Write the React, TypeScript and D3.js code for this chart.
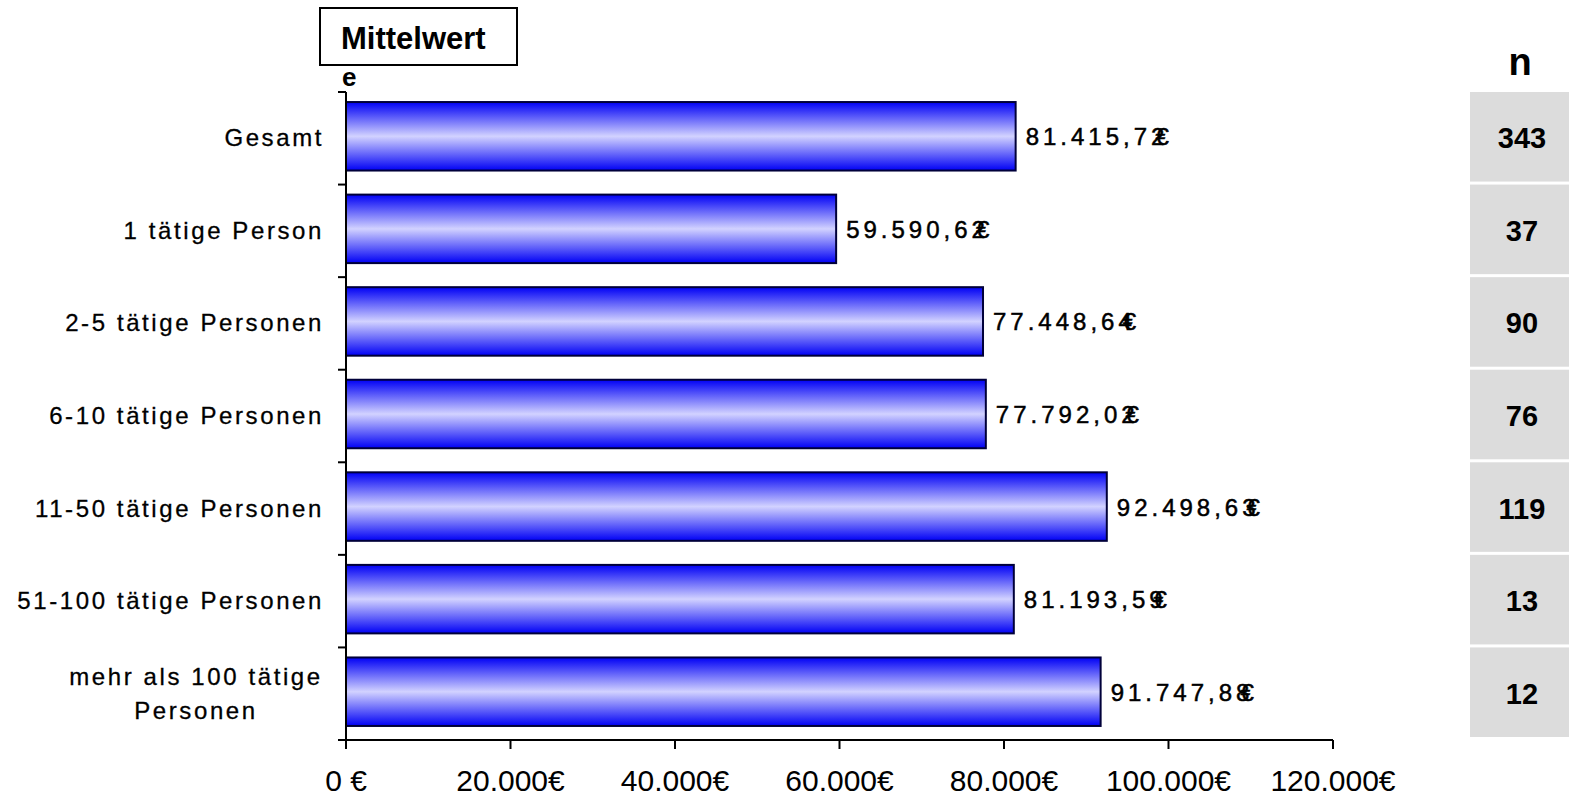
import React from "react";
import * as d3 from "d3";

const categories = [
  "Gesamt",
  "1 tätige Person",
  "2-5 tätige Personen",
  "6-10 tätige Personen",
  "11-50 tätige Personen",
  "51-100 tätige Personen",
  "mehr als 100 tätige|Personen",
];
const values = [81415.72, 59590.62, 77448.64, 77792.02, 92498.63, 81193.59, 91747.88];
const nValues = [343, 37, 90, 76, 119, 13, 12];
const xTicks = [0, 20000, 40000, 60000, 80000, 100000, 120000];
const xTickLabels = ["0 €", "20.000€", "40.000€", "60.000€", "80.000€", "100.000€", "120.000€"];

const fmt = (v: number) => {
  const [i, d] = v.toFixed(2).split(".");
  return i.replace(/\B(?=(\d{3})+(?!\d))/g, ".") + "," + d;
};

export default function App() {
  const W = 1569, H = 797;
  const x = d3.scaleLinear().domain([0, 120000]).range([346, 1333]);
  const y = d3.scaleBand<number>().domain(d3.range(categories.length)).range([92, 740]).paddingInner(0.26).paddingOuter(0.13);
  const band = d3.scaleBand<number>().domain(d3.range(categories.length)).range([92, 740]);
  const font = "Arial, 'Liberation Sans', sans-serif";
  return (
    <svg width={W} height={H} style={{ position: "absolute", left: 0, top: 0, background: "#fff" }}>
      <defs>
        <linearGradient id="bg" x1="0" y1="0" x2="0" y2="1">
          <stop offset="0" stopColor="#0000f5" />
          <stop offset="0.5" stopColor="#d2d2ff" />
          <stop offset="1" stopColor="#0000f5" />
        </linearGradient>
      </defs>
      {/* Mittelwert box */}
      <rect x={320} y={8} width={197} height={57} fill="#fff" stroke="#000" strokeWidth={2} />
      <text x={341} y={49} fontFamily={font} fontWeight="bold" fontSize={31}>Mittelwert</text>
      <text x={342} y={86} fontFamily={font} fontWeight="bold" fontSize={26}>e</text>
      {/* bars */}
      {values.map((v, i) => {
        const y0 = (y(i) as number) - 2;
        const bw = y.bandwidth();
        return (
          <rect key={i} x={x(0)} y={y0} width={x(v) - x(0)} height={bw} fill="url(#bg)" stroke="#00003a" strokeWidth={2} />
        );
      })}
      {values.map((v, i) => {
        const y0 = (y(i) as number) - 2;
        const bw = y.bandwidth();
        return (
          <text key={"t" + i} x={x(v) + 10} y={y0 + bw / 2 + 9} fontFamily={font} fontSize={24} letterSpacing={4} fill="#000" stroke="#000" strokeWidth={0.5}>
            {fmt(v)}
            <tspan dx={-13}>€</tspan>
          </text>
        );
      })}
      {/* y axis */}
      <line x1={346} y1={92} x2={346} y2={748} stroke="#000" strokeWidth={2} />
      {d3.range(categories.length + 1).map((i) => {
        const yy = i < categories.length ? (band(i) as number) : 740;
        return <line key={i} x1={338} x2={346} y1={yy} y2={yy} stroke="#000" strokeWidth={2} />;
      })}
      {categories.map((c, i) => {
        const cy = (band(i) as number) + band.bandwidth() / 2;
        const lines = c.split("|");
        const multi = lines.length > 1;
        return (
          <text key={i} textAnchor={multi ? "middle" : "end"} fontFamily={font} fontSize={24} letterSpacing={2.6} fill="#000" stroke="#000" strokeWidth={0.3}>
            {lines.map((l, j) => (
              <tspan key={j} x={multi ? 196 : 324} y={cy + 8 + (j - (lines.length - 1) / 2) * 34}>{l}</tspan>
            ))}
          </text>
        );
      })}
      {/* x axis */}
      <line x1={338} y1={740} x2={1333} y2={740} stroke="#000" strokeWidth={2} />
      {xTicks.map((t, i) => (
        <g key={i}>
          <line x1={x(t)} x2={x(t)} y1={740} y2={749} stroke="#000" strokeWidth={2} />
          <text x={x(t)} y={791} textAnchor="middle" fontFamily={font} fontSize={30} fill="#000">{xTickLabels[i]}</text>
        </g>
      ))}
      {/* n column */}
      <text x={1520} y={75} textAnchor="middle" fontFamily={font} fontWeight="bold" fontSize={38}>n</text>
      {nValues.map((n, i) => {
        const top = band(i) as number;
        const bh = band.bandwidth();
        return (
          <g key={i}>
            <rect x={1470} y={top} width={99} height={bh - 3} fill="#dcdcdc" />
            <text x={1522} y={top + bh / 2 + 10} textAnchor="middle" fontFamily={font} fontWeight="bold" fontSize={29}>{n}</text>
          </g>
        );
      })}
    </svg>
  );
}
